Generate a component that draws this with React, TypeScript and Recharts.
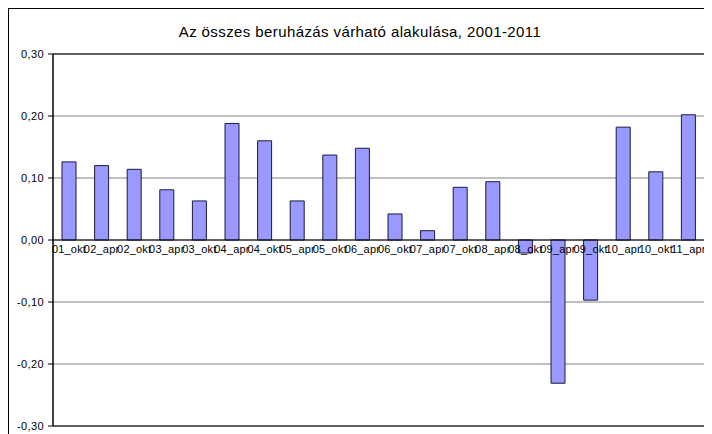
import React from "react";
import {
  BarChart,
  Bar,
  XAxis,
  YAxis,
  CartesianGrid,
  ReferenceLine,
  ReferenceArea,
  LabelList,
} from "recharts";

// félévek és a várható változás
const periods = [
  "01_okt", "02_apr", "02_okt", "03_apr", "03_okt", "04_apr", "04_okt",
  "05_apr", "05_okt", "06_apr", "06_okt", "07_apr", "07_okt", "08_apr",
  "08_okt", "09_apr", "09_okt", "10_apr", "10_okt", "11_apr",
];
const values = [
  0.126, 0.12, 0.114, 0.081, 0.063, 0.188, 0.16, 0.063, 0.137, 0.148,
  0.042, 0.015, 0.085, 0.094, -0.021, -0.231, -0.097, 0.182, 0.11, 0.202,
];
const yTicks = [-0.3, -0.2, -0.1, 0, 0.1, 0.2, 0.3];

const data = periods.map((p, i) => ({ name: p, value: values[i] }));

const fmt = (v: number) => v.toFixed(2).replace(".", ",");

const font = "Arial, 'Liberation Sans', sans-serif";

// kategória felirat a nulla vonal alatt
const PeriodLabel = (props: any) => {
  const { x, y, width, height, index } = props;
  const v = values[index];
  const zeroY = v >= 0 || height < 0 ? y + height : y;
  return (
    <text
      x={x + width / 2}
      y={zeroY + 13}
      textAnchor="middle"
      fontSize={11}
      letterSpacing={0.2}
      fontFamily={font}
      fill="#000"
    >
      {periods[index]}
    </text>
  );
};

export default function App() {
  return (
    <div
      style={{
        position: "relative",
        width: 702,
        height: 428,
        border: "1px solid #000",
        borderRight: "none",
        fontFamily: font,
      }}
    >
      <div
        style={{
          position: "absolute",
          top: 15,
          left: 0,
          width: "100%",
          textAlign: "center",
          fontSize: 15,
          letterSpacing: 0.4,
          lineHeight: "16px",
          color: "#000",
        }}
      >
        Az összes beruházás várható alakulása, 2001-2011
      </div>
      <BarChart
        width={702}
        height={428}
        data={data}
        margin={{ top: 45, right: 6, left: 0, bottom: 11 }}
        barSize={14}
      >
        <CartesianGrid vertical={false} stroke="#808080" />
        <XAxis dataKey="name" hide />
        <YAxis
          width={44}
          domain={[-0.3, 0.3]}
          ticks={yTicks}
          tickFormatter={fmt}
          tickSize={5}
          tickMargin={4}
          stroke="#000"
          tick={{ fontSize: 11, fill: "#000", letterSpacing: 0.4 }}
          interval={0}
        />
        <ReferenceArea y1={-0.3} y2={0.3} fill="none" stroke="#000" />
        <Bar
          dataKey="value"
          fill="#9999ff"
          stroke="#1a1a40"
          strokeWidth={1}
          isAnimationActive={false}
        >
          <LabelList dataKey="value" content={<PeriodLabel />} />
        </Bar>
        <ReferenceLine y={0} stroke="#000" />
      </BarChart>
    </div>
  );
}
